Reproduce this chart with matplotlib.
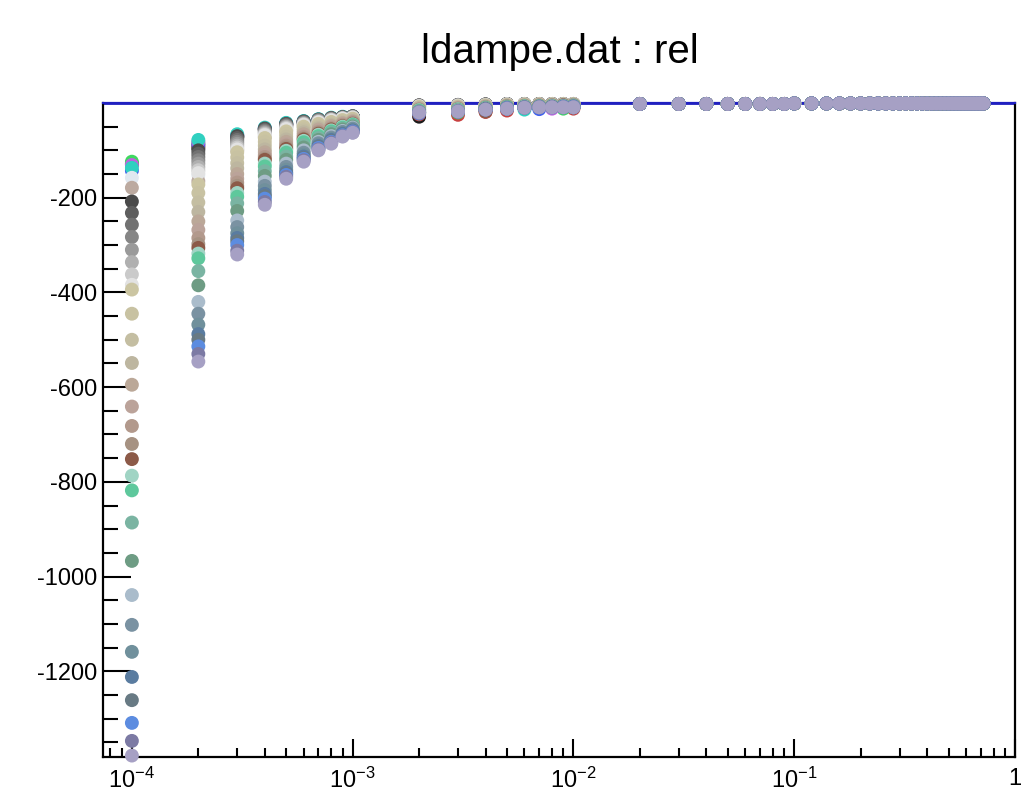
import matplotlib
matplotlib.use('Agg')
import matplotlib.pyplot as plt
from matplotlib.ticker import FixedLocator, FuncFormatter, NullFormatter

plt.rcParams['font.family'] = ['Liberation Sans', 'DejaVu Sans']
plt.rcParams['mathtext.fontset'] = 'custom'
plt.rcParams['mathtext.rm'] = 'Liberation Sans'
plt.rcParams['mathtext.it'] = 'Liberation Sans:italic'
plt.rcParams['mathtext.bf'] = 'Liberation Sans:bold'

title = "ldampe.dat : rel"

# one colour per series (drawing order)
series_colors = [
    '#1a1a1a', '#c84040', '#40d860', '#4060f0', '#c060e0', '#30d0c0',
    '#e0e8f0', '#bcaaa0',
    '#4a4a4a', '#5e5e5e', '#727272', '#868686', '#9a9a9a', '#b0b0b0', '#cacaca', '#e2e2e2',
    '#cbc5a2', '#c8c2a2', '#c4bea2', '#bdb6a0', '#bba898', '#bba39a', '#b2998c', '#a69282',
    '#8c5a48',
    '#a0d4c4', '#5ec89c', '#7ab4a2', '#6e9c84',
    '#aabccb', '#7a92a2', '#70909c', '#5a7ca0', '#687a84',
    '#5c8ce0', '#7c7aa4', '#a6a0c4',
]

# x positions of the columns
x_cols = [1e-4, 2e-4, 3e-4, 4e-4, 5e-4, 6e-4, 7e-4, 8e-4, 9e-4, 1e-3,
          2e-3, 3e-3, 4e-3, 5e-3, 6e-3, 7e-3, 8e-3, 9e-3, 1e-2]

# values of every series at each column (series order as in series_colors)
y_1e4 = [-128, -130, -124, -143, -131, -137, -158, -179,
         -208, -232, -257, -283, -310, -336, -362, -384,
         -394, -445, -500, -549, -595, -641, -682, -720,
         -752, -787, -818, -886, -967,
         -1039, -1102, -1159, -1212, -1261, -1309, -1347, -1378]
y_2e4 = [-95, -90, -85, -88, -82, -78, -152, -165,
         -100, -107, -114, -121, -128, -135, -142, -148,
         -172, -190, -210, -230, -250, -268, -285, -298,
         -306, -318, -328, -355, -385,
         -420, -445, -468, -488, -500, -514, -530, -546]
y_3e4 = [-72, -71, -70, -69, -68, -66, -98, -100,
         -70, -74, -78, -82, -86, -90, -94, -98,
         -104, -115, -127, -138, -150, -160, -168, -175,
         -180, -190, -198, -212, -228,
         -248, -262, -275, -285, -292, -300, -312, -320]
y_4e4 = [-56, -55, -54, -54, -53, -52, -70, -72,
         -54, -56, -58, -60, -62, -64, -66, -68,
         -74, -82, -90, -98, -104, -110, -114, -118,
         -120, -128, -134, -144, -154,
         -166, -175, -184, -192, -197, -202, -209, -215]
y_5e4 = [-46, -45, -44, -44, -43, -42, -56, -58,
         -44, -45, -47, -48, -50, -51, -53, -55,
         -60, -65, -71, -77, -82, -87, -90, -94,
         -97, -101, -105, -113, -120,
         -128, -135, -141, -146, -149, -152, -156, -160]
y_6e4 = [-41, -40, -40, -39, -39, -38, -48, -49,
         -39, -40, -41, -42, -43, -44, -45, -46,
         -50, -54, -58, -62, -66, -70, -72, -75,
         -77, -80, -83, -89, -94,
         -100, -105, -109, -113, -116, -118, -121, -124]
y_7e4 = [-37, -36, -36, -35, -35, -34, -42, -43,
         -35, -35.5, -36, -37, -38, -39, -40, -41,
         -44, -47, -50, -53, -56, -59, -61, -63,
         -65, -67, -70, -74, -78,
         -82, -85, -88, -91, -93, -95, -98, -100]
y_8e4 = [-34, -33, -33, -32, -32, -31, -38, -39,
         -32, -32, -33, -34, -35, -35, -36, -37,
         -40, -42, -45, -47, -49, -51, -53, -55,
         -56, -58, -60, -63, -66,
         -70, -73, -76, -78, -80, -82, -84, -86]
y_9e4 = [-31, -31, -30, -30, -30, -29, -34, -35,
         -30, -30, -31, -31, -32, -32, -33, -33,
         -36, -38, -40, -42, -43, -45, -46, -48,
         -49, -50, -52, -54, -56,
         -59, -61, -63, -65, -67, -68, -70, -71]
y_1e3 = [-30, -30, -29, -29, -29, -28, -32, -33,
         -28, -28, -29, -29, -30, -30, -31, -31,
         -33, -35, -36, -38, -39, -40, -41, -43,
         -44, -45, -46, -48, -50,
         -52, -54, -56, -58, -59, -60, -62, -63]
y_2e3 = [-29, -24, -22, -22, -21, -20, -8, -8,
         -5, -5, -6, -6, -6, -7, -7, -7,
         -8, -9, -10, -11, -12, -13, -14, -14,
         -15, -15, -16, -17, -18,
         -19, -19, -20, -20, -20, -20, -20, -20]
y_3e3 = [-16, -25, -20, -18, -18, -17, -6, -6,
         -4, -4, -5, -5, -5, -5, -6, -6,
         -7, -8, -9, -10, -10, -11, -12, -12,
         -13, -13, -14, -15, -15,
         -16, -17, -17, -18, -18, -18, -18, -18]
y_4e3 = [-14, -19, -15, -15, -15, -14, -4, -4,
         -3, -3, -3, -4, -4, -4, -4, -5,
         -5, -6, -7, -7, -8, -8, -9, -9,
         -18, -10, -10, -11, -11,
         -12, -12, -13, -13, -13, -14, -14, -14]
y_5e3 = [-11, -16, -12, -12, -12, -12, -3, -3,
         -2, -2, -2, -3, -3, -3, -3, -3,
         -4, -4, -5, -5, -6, -6, -7, -7,
         -8, -8, -8, -9, -9,
         -10, -10, -10, -11, -11, -11, -12, -12]
y_6e3 = [-10, -10, -10, -10, -10, -14, -3, -3,
         -2, -2, -2, -2, -3, -3, -3, -3,
         -3, -4, -4, -5, -5, -6, -6, -6,
         -7, -7, -7, -8, -8,
         -8, -9, -9, -9, -10, -10, -10, -10]
y_7e3 = [-9, -9, -9, -13, -9, -9, -3, -3,
         -2, -2, -2, -2, -2, -3, -3, -3,
         -3, -3, -4, -4, -5, -5, -5, -6,
         -6, -6, -7, -7, -7,
         -8, -8, -8, -8, -9, -9, -9, -9]
y_8e3 = [-9, -9, -9, -9, -12, -9, -2, -2,
         -2, -2, -2, -2, -2, -2, -3, -3,
         -3, -3, -4, -4, -4, -5, -5, -5,
         -6, -6, -6, -7, -7,
         -7, -8, -8, -8, -8, -9, -9, -9]
y_9e3 = [-9, -9, -12, -9, -9, -9, -2, -2,
         -2, -2, -2, -2, -2, -2, -2, -3,
         -3, -3, -3, -4, -4, -4, -5, -5,
         -5, -6, -6, -6, -7,
         -7, -7, -8, -8, -8, -8, -9, -9]
y_1e2 = [-9, -12, -9, -9, -9, -9, -2, -2,
         -2, -2, -2, -2, -2, -2, -2, -2,
         -3, -3, -3, -3, -4, -4, -4, -5,
         -5, -5, -6, -6, -6,
         -7, -7, -7, -8, -8, -8, -9, -9]

# far columns: every series sits on top of the others at these points
x_far = [0.02, 0.03, 0.04, 0.05, 0.06, 0.07, 0.08, 0.09,
         0.10, 0.12, 0.14, 0.16, 0.18, 0.20, 0.22, 0.24, 0.26, 0.28,
         0.30, 0.32, 0.34, 0.36, 0.38, 0.40, 0.42, 0.44, 0.46, 0.48,
         0.50, 0.52, 0.54, 0.56, 0.58, 0.60, 0.62, 0.64, 0.66, 0.68,
         0.70, 0.72]
y_far = [-2, -2, -2, -2, -2, -2, -2, -2,
         -1, -1, -1, -1, -1, -1, -1, -1, -1, -1,
         -1, -1, -1, -1, -1, -1, -1, -1, -1, -1,
         -1, -1, -1, -1, -1, -1, -1, -1, -1, -1,
         -1, -1]

y_major = [-1200, -1000, -800, -600, -400, -200]
x_major = [1e-4, 1e-3, 1e-2, 1e-1, 1.0]
x_major_labels = [r'$\mathdefault{10^{-4}}$', r'$\mathdefault{10^{-3}}$',
                  r'$\mathdefault{10^{-2}}$', r'$\mathdefault{10^{-1}}$', '1']

cols = [y_1e4, y_2e4, y_3e4, y_4e4, y_5e4, y_6e4, y_7e4, y_8e4, y_9e4, y_1e3,
        y_2e3, y_3e3, y_4e3, y_5e3, y_6e3, y_7e3, y_8e3, y_9e3, y_1e2]

fig = plt.figure(figsize=(10.24, 7.97), dpi=100)
ax = fig.add_axes([0.1006, 0.0502, 0.8906, 0.8206])
ax.set_xscale('log')
ax.set_xlim(7.4e-5, 1.0)
ax.set_ylim(-1381, 0)

for i, c in enumerate(series_colors):
    xs = list(x_cols) + list(x_far)
    ys = [col[i] for col in cols] + list(y_far)
    ax.scatter(xs, ys, s=100, color=c, edgecolors='none', zorder=3 + i * 0.01,
               clip_on=False)

ax.axhline(0, color='#2020c0', lw=2.0, zorder=2)

for side in ['left', 'bottom', 'right']:
    ax.spines[side].set_color('black')
    ax.spines[side].set_linewidth(1.6)
ax.spines['top'].set_color('#2020c0')
ax.spines['top'].set_linewidth(1.6)

ax.yaxis.set_major_locator(FixedLocator(y_major))
ax.yaxis.set_minor_locator(FixedLocator(list(range(-1350, 0, 50))))
ax.yaxis.set_major_formatter(FuncFormatter(lambda v, p: f'{int(v)}'))
ax.tick_params(axis='y', which='major', direction='in', length=20, width=1.5,
               labelsize=17, pad=4, right=False)
ax.tick_params(axis='y', which='minor', direction='in', length=10.5, width=1.5,
               right=False)

minors = []
for d in [1e-5, 1e-4, 1e-3, 1e-2, 1e-1]:
    for m in range(2, 10):
        minors.append(d * m)
ax.xaxis.set_major_locator(FixedLocator(x_major))
ax.xaxis.set_minor_locator(FixedLocator(minors))
ax.set_xticklabels(x_major_labels)
ax.xaxis.set_minor_formatter(NullFormatter())
ax.tick_params(axis='x', which='major', direction='in', length=13, width=1.5,
               labelsize=17, pad=8, top=False)
ax.tick_params(axis='x', which='minor', direction='in', length=6.5, width=1.5,
               top=False)

fig.text(0.547, 0.935, title, ha='center', va='center', fontsize=29)

fig.savefig('out.png', dpi=100)
